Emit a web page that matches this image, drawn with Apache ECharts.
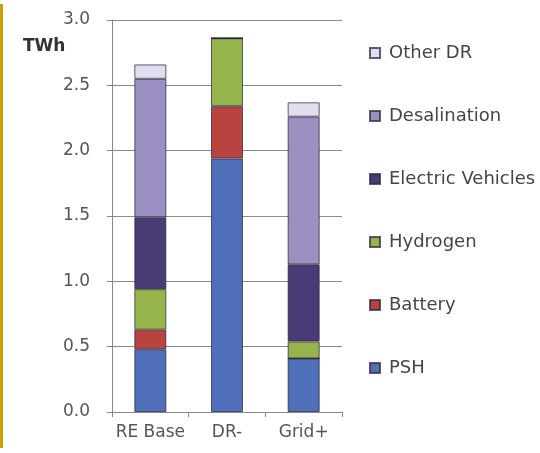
<!DOCTYPE html>
<html lang="en">
<head>
    <meta charset="UTF-8">
    <title>TWh by scenario</title>
    <script type="text/javascript" src="https://cdn.jsdelivr.net/npm/echarts@6/dist/echarts.min.js"></script>
</head>
<body style="margin: 0; background: #fff;">
<div id="container" style="width: 540px; height: 453px;"></div>
<script type="text/javascript">
    var categories = ['RE Base', 'DR-', 'Grid+'];
    var psh = [0.48, 1.94, 0.41];
    var battery = [0.15, 0.40, 0];
    var hydrogen = [0.31, 0.52, 0.13];
    var electricVehicles = [0.55, 0, 0.59];
    var desalination = [1.06, 0, 1.13];
    var otherDR = [0.11, 0, 0.11];
    var yTicks = [0, 0.5, 1.0, 1.5, 2.0, 2.5, 3.0];
    var legendOrder = ['Other DR', 'Desalination', 'Electric Vehicles', 'Hydrogen', 'Battery', 'PSH'];

    var font = '"DejaVu Sans", sans-serif';

    function bar(name, data, color) {
        return {
            name: name,
            type: 'bar',
            stack: 'total',
            barWidth: 32,
            data: data,
            itemStyle: {
                color: color,
                borderColor: 'rgba(45,40,60,0.75)',
                borderWidth: 1
            }
        };
    }

    var dom = document.getElementById("container");
    var myChart = echarts.init(dom);

    var option = {
        animation: false,
        grid: {left: 112, right: 198, top: 20, bottom: 41},
        graphic: [
            {type: 'rect', shape: {x: 0, y: 4, width: 3, height: 444}, style: {fill: '#cc9f00'}},
            {type: 'text', left: 23, top: 38,
                style: {text: 'TWh', font: 'bold 17px ' + font, fill: '#333'}}
        ],
        legend: {
            orient: 'vertical',
            left: 364,
            top: 38,
            icon: 'rect',
            itemWidth: 10,
            itemHeight: 10,
            itemGap: 43,
            data: legendOrder,
            textStyle: {fontFamily: font, fontSize: 18, color: '#454545', lineHeight: 20, padding: [0, 0, 0, 4]}
        },
        xAxis: {
            type: 'category',
            data: categories,
            boundaryGap: true,
            axisLine: {lineStyle: {color: '#888', width: 1}},
            axisTick: {show: true, length: 5, lineStyle: {color: '#888'}},
            axisLabel: {fontFamily: font, fontSize: 17, color: '#555', margin: 12, interval: 0}
        },
        yAxis: {
            type: 'value',
            min: yTicks[0],
            max: yTicks[yTicks.length - 1],
            interval: 0.5,
            axisLine: {show: true, lineStyle: {color: '#888', width: 1}},
            axisTick: {show: true, length: 5, lineStyle: {color: '#888'}},
            splitLine: {lineStyle: {color: '#8a8a8a', width: 1}},
            axisLabel: {
                fontFamily: font, fontSize: 17, color: '#555', margin: 22,
                formatter: function (v) { return v.toFixed(1); }
            }
        },
        series: [
            bar('PSH', psh, '#4f6fb8'),
            bar('Battery', battery, '#b8433f'),
            bar('Hydrogen', hydrogen, '#95b54c'),
            bar('Electric Vehicles', electricVehicles, '#4a3a76'),
            bar('Desalination', desalination, '#9c8fc2'),
            bar('Other DR', otherDR, '#e2def0')
        ]
    };
    myChart.setOption(option, true);
</script>
</body>
</html>
